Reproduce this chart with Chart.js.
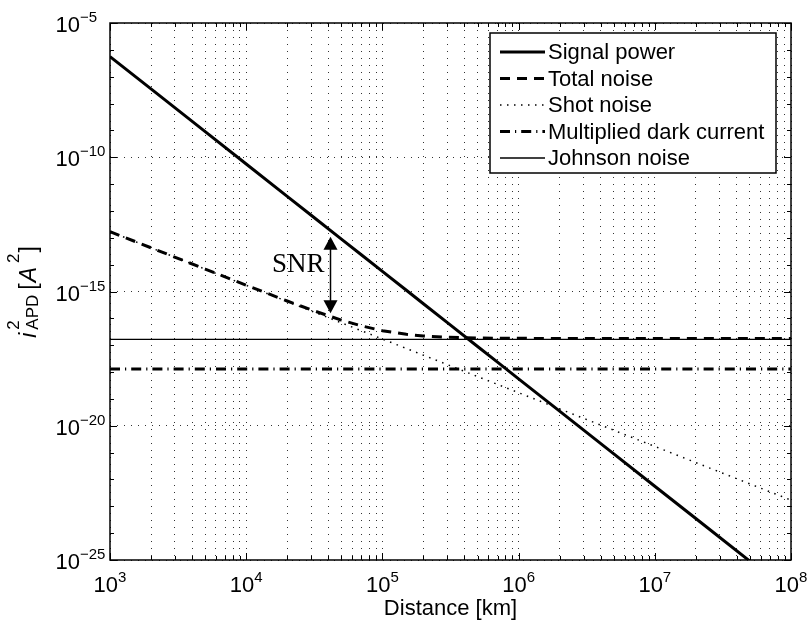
<!DOCTYPE html>
<html>
<head>
<meta charset="utf-8">
<script src="https://cdn.jsdelivr.net/npm/chart.js@4/dist/chart.umd.min.js"></script>
<style>
  html, body { margin: 0; padding: 0; background: #fff; }
  #wrap { width: 812px; height: 628px; }
</style>
</head>
<body>
<div id="wrap"><canvas id="chart" width="812" height="628"></canvas></div>
<script>
// distance samples [km]
const distances = [1e3, 2e3, 5e3, 1e4, 2e4, 3e4, 5e4, 7e4, 1e5, 1.5e5, 2e5, 3e5, 5e5, 7e5, 1e6, 2e6, 5e6, 1e7, 2e7, 5e7, 1e8];

// i_APD^2 [A^2]
const signalPower = [5.6e-7, 3.5e-8, 8.96e-10, 5.6e-11, 3.5e-12, 6.91e-13, 8.96e-14, 2.33e-14, 5.6e-15, 1.11e-15, 3.5e-16, 6.91e-17, 8.96e-18, 2.33e-18, 5.6e-19, 3.5e-20, 8.96e-22, 5.6e-23, 3.5e-24, 8.96e-26, 5.6e-27];
const totalNoise = [1.7e-13, 4.25e-14, 6.82e-15, 1.72e-15, 4.43e-16, 2.07e-16, 8.58e-17, 5.25e-17, 3.48e-17, 2.54e-17, 2.21e-17, 1.97e-17, 1.85e-17, 1.81e-17, 1.8e-17, 1.78e-17, 1.78e-17, 1.78e-17, 1.78e-17, 1.78e-17, 1.78e-17];
const shotNoise = [1.7e-13, 4.25e-14, 6.8e-15, 1.7e-15, 4.25e-16, 1.89e-16, 6.8e-17, 3.47e-17, 1.7e-17, 7.56e-18, 4.25e-18, 1.89e-18, 6.8e-19, 3.47e-19, 1.7e-19, 4.25e-20, 6.8e-21, 1.7e-21, 4.25e-22, 6.8e-23, 1.7e-23];
const darkCurrent = [1.3e-18, 1.3e-18, 1.3e-18, 1.3e-18, 1.3e-18, 1.3e-18, 1.3e-18, 1.3e-18, 1.3e-18, 1.3e-18, 1.3e-18, 1.3e-18, 1.3e-18, 1.3e-18, 1.3e-18, 1.3e-18, 1.3e-18, 1.3e-18, 1.3e-18, 1.3e-18, 1.3e-18];
const johnsonNoise = [1.65e-17, 1.65e-17, 1.65e-17, 1.65e-17, 1.65e-17, 1.65e-17, 1.65e-17, 1.65e-17, 1.65e-17, 1.65e-17, 1.65e-17, 1.65e-17, 1.65e-17, 1.65e-17, 1.65e-17, 1.65e-17, 1.65e-17, 1.65e-17, 1.65e-17, 1.65e-17, 1.65e-17];

const seriesLabels = ["Signal power", "Total noise", "Shot noise", "Multiplied dark current", "Johnson noise"];

// axis ticks (exponents of ten)
const xTickExponents = [3, 4, 5, 6, 7, 8];
const yTickExponents = [-5, -10, -15, -20, -25];
const xTitle = "Distance [km]";

// SNR marker
const snrX = 4.12e4;
const snrTop = 1.1e-13;
const snrBottom = 1.55e-16;
const snrText = "SNR";

const SANS = "'Liberation Sans', Arial, Helvetica, sans-serif";

function points(values) {
  return distances.map((d, i) => ({ x: d, y: values[i] }));
}

function minorGrid(lo, hi) {
  const out = [];
  for (let n = lo; n < hi; n++) {
    for (let k = 1; k < 10; k++) out.push(k * Math.pow(10, n));
  }
  out.push(Math.pow(10, hi));
  return out;
}

const styles = [
  { width: 3, dash: [] },
  { width: 3, dash: [10, 7] },
  { width: 1.5, dash: [1.5, 5.5] },
  { width: 3, dash: [10, 5, 1.2, 5] },
  { width: 1.3, dash: [] },
];

function makeDataset(i, values) {
  return {
    label: seriesLabels[i],
    data: points(values),
    borderColor: "#000",
    backgroundColor: "#000",
    borderWidth: styles[i].width,
    borderDash: styles[i].dash,
    pointRadius: 0,
    tension: 0,
    clip: 0,
  };
}

function drawSup(ctx, base, exp, x, y, align) {
  ctx.font = "22px " + SANS;
  const bw = ctx.measureText(base).width;
  ctx.font = "15px " + SANS;
  const ew = ctx.measureText(exp).width;
  let x0 = x;
  if (align === "center") x0 = x - (bw + ew) / 2;
  if (align === "base-right") x0 = x - bw;
  ctx.textAlign = "left";
  ctx.textBaseline = "alphabetic";
  ctx.font = "22px " + SANS;
  ctx.fillText(base, x0, y);
  ctx.font = "15px " + SANS;
  ctx.fillText(exp, x0 + bw, y - 10);
}

function drawLegendLine(ctx, i, x1, x2, y) {
  ctx.save();
  ctx.strokeStyle = "#000";
  ctx.lineWidth = styles[i].width;
  ctx.setLineDash(styles[i].dash);
  ctx.beginPath();
  ctx.moveTo(x1, y);
  ctx.lineTo(x2, y);
  ctx.stroke();
  ctx.restore();
}

function arrowHead(ctx, x, tipY, dir) {
  ctx.beginPath();
  ctx.moveTo(x, tipY);
  ctx.lineTo(x - 7, tipY - dir * 13);
  ctx.lineTo(x + 7, tipY - dir * 13);
  ctx.closePath();
  ctx.fill();
}

const decorations = {
  id: "decorations",
  afterDatasetsDraw(chart) {
    const { ctx, chartArea: a, scales } = chart;
    const xs = scales.x, ys = scales.y;
    ctx.save();

    // SNR arrow
    const ax = Math.round(xs.getPixelForValue(snrX)) + 0.5;
    const yt = ys.getPixelForValue(snrTop);
    const yb = ys.getPixelForValue(snrBottom);
    ctx.strokeStyle = "#000";
    ctx.fillStyle = "#000";
    ctx.lineWidth = 1.5;
    ctx.beginPath();
    ctx.moveTo(ax, yt + 10);
    ctx.lineTo(ax, yb - 10);
    ctx.stroke();
    arrowHead(ctx, ax, yt, -1);
    arrowHead(ctx, ax, yb, 1);
    ctx.font = "27px 'Liberation Serif', 'Times New Roman', serif";
    ctx.textAlign = "right";
    ctx.textBaseline = "alphabetic";
    ctx.fillText(snrText, ax - 6, (yt + yb) / 2 - 3);

    // frame
    ctx.lineWidth = 1.5;
    ctx.strokeRect(a.left, a.top, a.right - a.left, a.bottom - a.top);

    // inner ticks, x
    ctx.lineWidth = 1;
    const xMinor = minorGrid(xTickExponents[0], xTickExponents[xTickExponents.length - 1]);
    xMinor.forEach(v => {
      const px = Math.round(xs.getPixelForValue(v)) + 0.5;
      const major = Math.abs(Math.log10(v) - Math.round(Math.log10(v))) < 1e-9;
      const len = major ? 7 : 4;
      ctx.beginPath();
      ctx.moveTo(px, a.bottom); ctx.lineTo(px, a.bottom - len);
      ctx.moveTo(px, a.top); ctx.lineTo(px, a.top + len);
      ctx.stroke();
    });
    // inner ticks, y (one per decade)
    for (let e = -25; e <= -5; e++) {
      const py = Math.round(ys.getPixelForValue(Math.pow(10, e))) + 0.5;
      const len = e % 5 === 0 ? 7 : 4;
      ctx.beginPath();
      ctx.moveTo(a.left, py); ctx.lineTo(a.left + len, py);
      ctx.moveTo(a.right, py); ctx.lineTo(a.right - len, py);
      ctx.stroke();
    }

    // tick labels
    ctx.fillStyle = "#000";
    xTickExponents.forEach(e => {
      const px = xs.getPixelForValue(Math.pow(10, e));
      drawSup(ctx, "10", String(e), px, a.bottom + 32, "center");
    });
    yTickExponents.forEach(e => {
      const py = ys.getPixelForValue(Math.pow(10, e));
      drawSup(ctx, "10", "\u2212" + String(-e), a.left - 30, py + 9, "base-right");
    });

    // x title
    ctx.font = "22px " + SANS;
    ctx.textAlign = "center";
    ctx.textBaseline = "alphabetic";
    ctx.fillText(xTitle, (a.left + a.right) / 2, 615);

    // y title (rotated, rich text)
    ctx.save();
    ctx.translate(36, 292);
    ctx.rotate(-Math.PI / 2);
    const big = "23px " + SANS, bigI = "italic 23px " + SANS, small = "17px " + SANS;
    const parts = [
      { t: "i", f: bigI, dy: 0, adv: true, gap: 3 },
      { t: "2", f: small, dy: -17, adv: false, gap: 0 },
      { t: "APD", f: small, dy: 2, adv: true, gap: 5 },
      { t: "[", f: big, dy: 0, adv: true, gap: 1 },
      { t: "A", f: bigI, dy: 0, adv: true, gap: 4 },
      { t: "2", f: small, dy: -17, adv: true, gap: 1 },
      { t: "]", f: big, dy: 0, adv: true, gap: 0 },
    ];
    let total = 0;
    parts.forEach(p => { ctx.font = p.f; p.w = ctx.measureText(p.t).width; if (p.adv) total += p.w + p.gap; });
    let cx = -total / 2;
    ctx.textAlign = "left";
    parts.forEach(p => {
      ctx.font = p.f;
      ctx.fillText(p.t, cx, p.dy);
      if (p.adv) cx += p.w + p.gap;
    });
    ctx.restore();

    // legend
    const lx = 490, ly = 33, lw = 286, lh = 140;
    ctx.fillStyle = "#fff";
    ctx.fillRect(lx, ly, lw, lh);
    ctx.lineWidth = 1.5;
    ctx.strokeStyle = "#000";
    ctx.strokeRect(lx, ly, lw, lh);
    ctx.fillStyle = "#000";
    ctx.font = "22px " + SANS;
    ctx.textAlign = "left";
    ctx.textBaseline = "middle";
    seriesLabels.forEach((label, i) => {
      const y = ly + 19 + i * 26.5;
      drawLegendLine(ctx, i, 500, 545, y);
      ctx.fillText(label, 548, y + 1);
    });

    ctx.restore();
  },
};

function createChart() {
  const el = document.getElementById("chart");
  const ctx = el.getContext("2d");
  const gridX = minorGrid(xTickExponents[0], xTickExponents[xTickExponents.length - 1]);
  const gridY = yTickExponents.map(e => Math.pow(10, e)).reverse();
  return new Chart(ctx, {
    type: "line",
    data: {
      datasets: [
        makeDataset(0, signalPower),
        makeDataset(1, totalNoise),
        makeDataset(2, shotNoise),
        makeDataset(3, darkCurrent),
        makeDataset(4, johnsonNoise),
      ],
    },
    options: {
      responsive: false,
      animation: false,
      layout: { padding: { left: 110, top: 23, right: 21, bottom: 68 } },
      plugins: { legend: { display: false }, tooltip: { enabled: false } },
      scales: {
        x: {
          type: "logarithmic",
          min: 1e3,
          max: 1e8,
          afterBuildTicks: (axis) => { axis.ticks = gridX.map(v => ({ value: v })); },
          ticks: { display: false },
          grid: { color: "#333", lineWidth: 1, drawTicks: false },
          border: { display: false, dash: [1, 6] },
        },
        y: {
          type: "logarithmic",
          min: 1e-25,
          max: 1e-5,
          afterBuildTicks: (axis) => { axis.ticks = gridY.map(v => ({ value: v })); },
          ticks: { display: false },
          grid: { color: "#333", lineWidth: 1, drawTicks: false },
          border: { display: false, dash: [1, 6] },
        },
      },
    },
    plugins: [decorations],
  });
}

createChart();
</script>
</body>
</html>
